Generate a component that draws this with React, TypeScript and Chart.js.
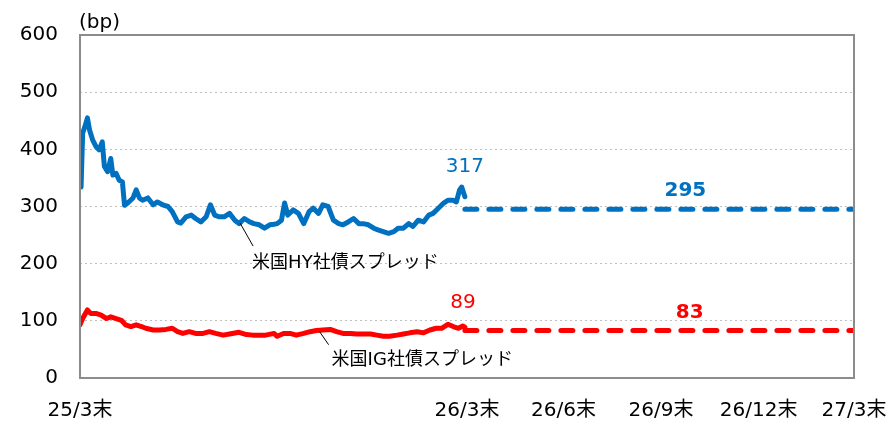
import { useEffect, useRef } from 'react';
import { Chart, registerables } from 'chart.js';

Chart.register(...registerables);

const FONT = '"DejaVu Sans", "Noto Sans CJK JP", sans-serif';
const BLUE = '#0070C0';
const RED = '#FF0000';

// x axis: days since 2025-03-31
const xTickDays = [0, 91, 183, 275, 365, 456, 548, 640, 730];
const xTickLabels = ['25/3末', '', '', '', '26/3末', '26/6末', '26/9末', '26/12末', '27/3末'];
const yMin = 0;
const yMax = 600;
const yStep = 100;
const unitLabel = '(bp)';

const hyName = '米国HY社債スプレッド';
const igName = '米国IG社債スプレッド';

const hyDays = [
  1, 2.5, 5, 7, 9, 12, 15, 18, 21, 23, 26, 29, 31, 34, 37, 40, 42, 45, 50, 53,
  56, 59, 64, 69, 73, 78, 83, 87, 92, 95, 100, 105, 109, 114, 119, 123, 127, 131, 136, 141,
  146, 150, 155, 160, 164, 169, 174, 179, 183, 186, 190, 193, 196, 201, 206, 211, 216, 220, 225, 229,
  234, 239, 244, 248, 253, 258, 263, 267, 272, 277, 281, 286, 291, 296, 300, 305, 310, 314, 319, 324,
  329, 333, 338, 343, 347, 352, 355, 358, 360, 363,
];
const hyValues = [
  334, 428, 442, 455, 434, 416, 405, 399, 413, 370, 361, 384, 355, 358, 346, 343, 302, 306, 315, 329,
  315, 311, 315, 303, 308, 303, 300, 291, 273, 271, 282, 285, 279, 273, 282, 303, 285, 282, 282, 288,
  276, 270, 279, 273, 270, 268, 262, 268, 269, 270, 276, 306, 285, 294, 288, 270, 291, 297, 288, 303,
  300, 276, 270, 268, 273, 279, 270, 270, 268, 262, 259, 256, 253, 256, 262, 262, 270, 265, 276, 273,
  285, 288, 297, 306, 311, 311, 308, 329, 334, 317,
];

const igDays = [
  0, 2.5, 7, 10, 15, 20, 25, 29, 34, 39, 43, 48, 53, 58, 62, 69, 75, 81, 87, 92,
  97, 103, 109, 116, 122, 128, 135, 141, 150, 157, 163, 169, 175, 183, 186, 192, 198, 204, 211, 217,
  223, 229, 236, 242, 248, 255, 261, 267, 274, 280, 286, 292, 299, 305, 311, 318, 324, 330, 336, 341,
  347, 352, 357, 361, 363,
];
const igValues = [
  93, 104, 119, 113, 113, 110, 104, 107, 104, 101, 93, 90, 93, 90, 87, 84, 84, 85, 87, 81,
  78, 81, 78, 78, 81, 78, 75, 77, 80, 76, 75, 75, 75, 78, 73, 78, 78, 75, 78, 81,
  83, 84, 85, 81, 78, 78, 77, 77, 77, 75, 73, 73, 75, 77, 79, 81, 79, 84, 87, 87,
  94, 90, 87, 91, 89,
];

const forecastDays = [363, 730];
const hyForecast = 295;
const igForecast = 83;
const hyLatest = 317;
const igLatest = 89;

const toPoints = (xs: number[], ys: number[]) => xs.map((x, i) => ({ x, y: ys[i] }));

const overlayPlugin = {
  id: 'overlay',
  afterDatasetsDraw(chart: any) {
    const { ctx, chartArea: a, scales } = chart;
    const x = scales.x;
    const y = scales.y;
    ctx.save();

    // plot border
    ctx.strokeStyle = '#8c8c8c';
    ctx.lineWidth = 2;
    ctx.setLineDash([]);
    ctx.strokeRect(a.left, a.top, a.right - a.left, a.bottom - a.top);

    // unit label
    ctx.fillStyle = '#000';
    ctx.font = `20px ${FONT}`;
    ctx.textAlign = 'left';
    ctx.textBaseline = 'alphabetic';
    ctx.fillText(unitLabel, a.left - 1, a.top - 7);

    // value labels
    const lastDay = hyDays[hyDays.length - 1];
    ctx.textAlign = 'center';
    ctx.fillStyle = BLUE;
    ctx.font = `20px ${FONT}`;
    ctx.fillText(String(hyLatest), x.getPixelForValue(lastDay), y.getPixelForValue(hyLatest) - 25);
    ctx.font = `bold 20px ${FONT}`;
    ctx.fillText(String(hyForecast), x.getPixelForValue(571), y.getPixelForValue(hyForecast) - 13);
    ctx.fillStyle = RED;
    ctx.font = `20px ${FONT}`;
    ctx.fillText(String(igLatest), x.getPixelForValue(lastDay) - 2, y.getPixelForValue(igLatest) - 19);
    ctx.font = `bold 20px ${FONT}`;
    ctx.fillText(String(igForecast), x.getPixelForValue(575), y.getPixelForValue(igForecast) - 13);

    // series names with leader lines
    ctx.strokeStyle = '#000';
    ctx.lineWidth = 1;
    ctx.fillStyle = '#000';
    ctx.font = `18px ${FONT}`;
    ctx.textAlign = 'left';

    const hx = x.getPixelForValue(151);
    const hy = y.getPixelForValue(271);
    ctx.beginPath();
    ctx.moveTo(hx, hy);
    ctx.lineTo(hx + 13, hy + 23);
    ctx.stroke();
    ctx.fillText(hyName, hx + 12, hy + 45);

    const ix = x.getPixelForValue(226);
    const iy = y.getPixelForValue(81);
    ctx.beginPath();
    ctx.moveTo(ix, iy);
    ctx.lineTo(ix + 9, iy + 13);
    ctx.stroke();
    ctx.fillText(igName, ix + 12, iy + 33);

    ctx.restore();
  },
};

export default function App() {
  const ref = useRef<HTMLCanvasElement | null>(null);

  useEffect(() => {
    document.body.style.margin = '0';
    const canvas = ref.current;
    if (!canvas) return;
    const solid = {
      borderWidth: 5,
      pointRadius: 0,
      tension: 0,
      borderJoinStyle: 'round' as const,
      borderCapStyle: 'round' as const,
      fill: false,
    };
    const dashed = {
      ...solid,
      borderDash: [12, 12],
    };
    const chart = new Chart(canvas, {
      type: 'line',
      data: {
        datasets: [
          { ...solid, label: hyName, data: toPoints(hyDays, hyValues), borderColor: BLUE },
          { ...solid, label: igName, data: toPoints(igDays, igValues), borderColor: RED },
          {
            ...dashed,
            label: 'HY forecast',
            data: toPoints(forecastDays, forecastDays.map(() => hyForecast)),
            borderColor: BLUE,
          },
          {
            ...dashed,
            label: 'IG forecast',
            data: toPoints(forecastDays, forecastDays.map(() => igForecast)),
            borderColor: RED,
          },
        ],
      },
      options: {
        responsive: false,
        animation: false,
        parsing: false as any,
        layout: { padding: { left: 0, right: 39, top: 35, bottom: 0 } },
        plugins: {
          legend: { display: false },
          tooltip: { enabled: false },
        },
        scales: {
          x: {
            type: 'linear',
            min: xTickDays[0],
            max: xTickDays[xTickDays.length - 1],
            grid: { display: false, drawTicks: false, tickLength: 0 },
            border: { display: false },
            afterBuildTicks: (scale: any) => {
              scale.ticks = xTickDays.map((v) => ({ value: v }));
            },
            afterFit: (scale: any) => {
              scale.height = 46;
              scale.paddingLeft = 0;
              scale.paddingRight = 0;
            },
            ticks: {
              autoSkip: false,
              maxRotation: 0,
              minRotation: 0,
              padding: 21,
              color: '#000',
              font: { family: FONT, size: 20 },
              callback: (_v: any, i: number) => xTickLabels[i],
            },
          },
          y: {
            type: 'linear',
            min: yMin,
            max: yMax,
            grid: { color: '#bfbfbf', lineWidth: 1, drawTicks: false, tickLength: 0 },
            border: { display: false, dash: [2, 3] },
            afterFit: (scale: any) => {
              scale.width = 80;
              scale.paddingTop = 0;
              scale.paddingBottom = 0;
            },
            ticks: {
              stepSize: yStep,
              padding: 22,
              color: '#000',
              font: { family: FONT, size: 20 },
            },
          },
        },
      },
      plugins: [overlayPlugin],
    });
    return () => chart.destroy();
  }, []);

  return <canvas ref={ref} width={893} height={424} />;
}
